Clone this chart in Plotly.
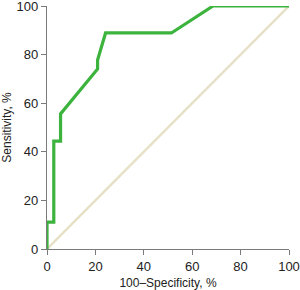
import plotly.graph_objects as go

fpr = [0, 0, 2.8, 2.8, 5.6, 5.6, 20.9, 20.9, 24.2, 51.4, 68.6, 100]
tpr = [0, 11.1, 11.1, 44.4, 44.4, 55.6, 74.1, 77.8, 88.9, 88.9, 100, 100]
ref_x = [0, 100]
ref_y = [0, 100]
ticks = [0, 20, 40, 60, 80, 100]

fig = go.Figure()
fig.add_trace(go.Scatter(x=ref_x, y=ref_y, mode="lines",
                         line=dict(color="#e6e0c6", width=2.4), hoverinfo="skip"))
fig.add_trace(go.Scatter(x=fpr, y=tpr, mode="lines",
                         line=dict(color="#3cb33c", width=3.2), hoverinfo="skip"))

axis_common = dict(range=[0, 100], tickvals=ticks, showgrid=False, zeroline=False,
                   showline=True, linecolor="#7a7a7a", linewidth=1.2,
                   ticks="outside", ticklen=5, tickcolor="#7a7a7a",
                   ticklabeloverflow="allow", automargin=False,
                   tickfont=dict(family="Liberation Sans, Arial", size=13, color="#222"))
fig.update_layout(
    width=300, height=290, margin=dict(l=46.5, r=10.5, t=6, b=41),
    paper_bgcolor="white", plot_bgcolor="white", showlegend=False,
    xaxis=dict(**axis_common, title=dict(text="100–Specificity, %", standoff=5,
               font=dict(family="Liberation Sans, Arial", size=12, color="#222"))),
    yaxis=dict(**axis_common, title=dict(text="Sensitivity, %", standoff=4,
               font=dict(family="Liberation Sans, Arial", size=12, color="#222"))),
)
fig.write_html("out.html")
